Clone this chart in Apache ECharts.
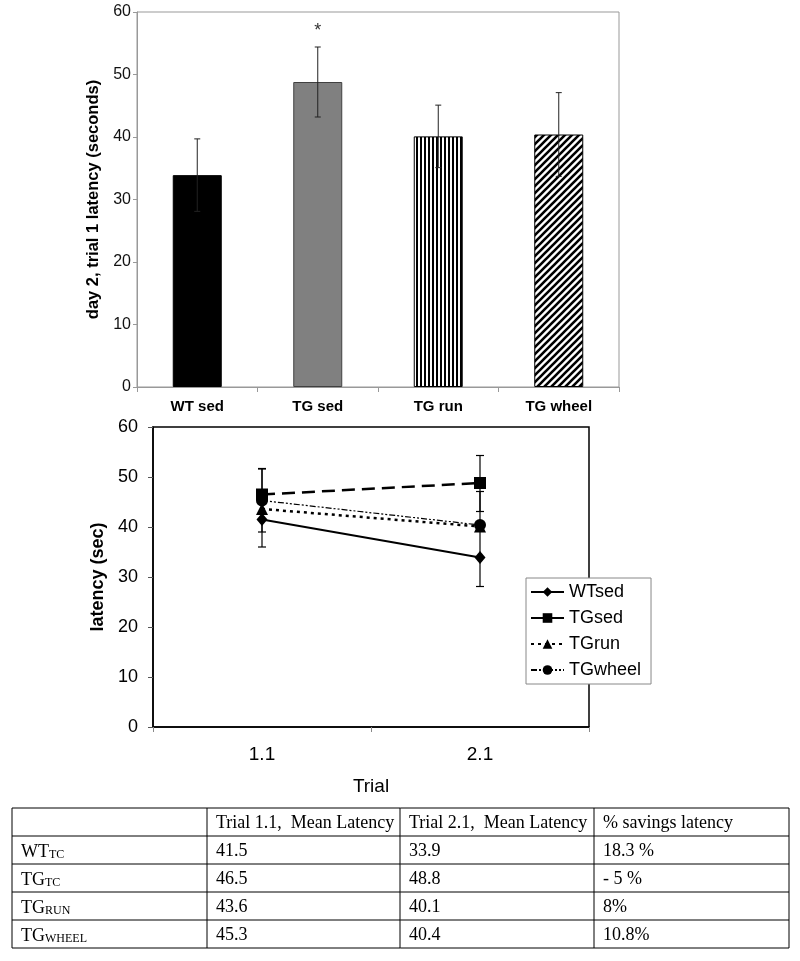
<!DOCTYPE html>
<html><head><meta charset="utf-8">
<script src="https://cdn.jsdelivr.net/npm/echarts@6/dist/echarts.min.js"></script>
<style>html,body{margin:0;padding:0;background:#fff}#c{width:800px;height:961px}</style>
</head><body><div id="c"></div>
<script>
// ---- Top bar chart data ----
const barCategories = ['WT sed', 'TG sed', 'TG run', 'TG wheel'];
const barValues = [33.9, 48.8, 40.1, 40.4];
const barErrors = [5.8, 5.6, 5.0, 6.7];
const barAxisTitle = 'day 2, trial 1 latency (seconds)';
const sigCategory = 'TG sed';
const sigValue = 57;

// ---- Line chart data ----
const trialCategories = ['1.1', '2.1'];
const lineNames = ['WTsed', 'TGsed', 'TGrun', 'TGwheel'];
const wtSed = [41.5, 33.9];
const tgSed = [46.5, 48.8];
const tgRun = [43.6, 40.1];
const tgWheel = [45.3, 40.4];
const wtSedErrLow = [36.0, 28.1];
const wtSedErrHigh = [47.0, 39.7];
const tgSedErrLow = [41.3, 43.1];
const tgSedErrHigh = [51.7, 54.3];
const tgWheelErrLow = [39.0, 40.4];
const tgWheelErrHigh = [51.6, 47.1];
const lineAxisTitle = 'latency (sec)';
const lineXTitle = 'Trial';

// ---- Table data ----
const tableHeader = ['', 'Trial 1.1,  Mean Latency', 'Trial 2.1,  Mean Latency', '% savings latency'];
const tableGroups = ['WT', 'TG', 'TG', 'TG'];
const tableSubs = ['TC', 'TC', 'RUN', 'WHEEL'];
const tableTrial1 = ['41.5', '46.5', '43.6', '45.3'];
const tableTrial2 = ['33.9', '48.8', '40.1', '40.4'];
const tableSavings = ['18.3 %', '- 5 %', '8%', '10.8%'];

const SANS = 'Liberation Sans, Arial, sans-serif';
const SERIF = 'Liberation Serif, Times New Roman, serif';

function makeVStripes() {
  const c = document.createElement('canvas'); c.width = 4; c.height = 4;
  const g = c.getContext('2d');
  g.fillStyle = '#fff'; g.fillRect(0, 0, 4, 4);
  g.fillStyle = '#000'; g.fillRect(0, 0, 2, 4);
  return c;
}
function makeDiag() {
  const s = 7;
  const c = document.createElement('canvas'); c.width = s; c.height = s;
  const g = c.getContext('2d');
  g.fillStyle = '#fff'; g.fillRect(0, 0, s, s);
  g.strokeStyle = '#000'; g.lineWidth = 2.6; g.lineCap = 'square';
  g.beginPath();
  g.moveTo(-1, 1); g.lineTo(1, -1);
  g.moveTo(0, s); g.lineTo(s, 0);
  g.moveTo(s - 1, s + 1); g.lineTo(s + 1, s - 1);
  g.stroke();
  return c;
}

const barStyles = [
  { color: '#000', borderColor: '#000', borderWidth: 1 },
  { color: '#808080', borderColor: '#404040', borderWidth: 1 },
  { color: { image: makeVStripes(), repeat: 'repeat' }, borderColor: '#000', borderWidth: 1 },
  { color: { image: makeDiag(), repeat: 'repeat' }, borderColor: '#000', borderWidth: 1 }
];

function errRender(capHalf, color, lw) {
  return function (params, api) {
    const lo = api.value(1), hi = api.value(2);
    if (lo == null || hi == null || isNaN(lo) || isNaN(hi)) return null;
    const x = api.value(0);
    const pLo = api.coord([x, lo]), pHi = api.coord([x, hi]);
    const style = { stroke: color, lineWidth: lw };
    return {
      type: 'group', children: [
        { type: 'line', shape: { x1: pLo[0], y1: pLo[1], x2: pHi[0], y2: pHi[1] }, style },
        { type: 'line', shape: { x1: pLo[0] - capHalf, y1: pLo[1], x2: pLo[0] + capHalf, y2: pLo[1] }, style },
        { type: 'line', shape: { x1: pHi[0] - capHalf, y1: pHi[1], x2: pHi[0] + capHalf, y2: pHi[1] }, style }
      ]
    };
  };
}

const barErrData = barCategories.map((c, i) => [i, barValues[i] - barErrors[i], barValues[i] + barErrors[i]]);
function lineErrData(lo, hi) { return trialCategories.map((c, i) => [i, lo[i], hi[i]]); }

// ---- Table graphics ----
const tblTop = 808, rowH = 28;
const colX = [12, 207, 400, 594, 789];
const nRows = 5;
const tableEls = [];
for (let r = 0; r <= nRows; r++) {
  const y = tblTop + r * rowH;
  tableEls.push({ type: 'line', shape: { x1: colX[0], y1: y, x2: colX[4], y2: y }, style: { stroke: '#000', lineWidth: 1 } });
}
colX.forEach(x => {
  tableEls.push({ type: 'line', shape: { x1: x, y1: tblTop, x2: x, y2: tblTop + nRows * rowH }, style: { stroke: '#000', lineWidth: 1 } });
});
function cellText(col, row, text, rich) {
  const el = {
    type: 'text',
    style: {
      x: colX[col] + 9, y: tblTop + row * rowH + rowH / 2 + 1,
      text: text, fill: '#000', fontFamily: SERIF, fontSize: 18,
      verticalAlign: 'middle', align: 'left'
    }
  };
  if (rich) el.style.rich = rich;
  return el;
}
tableHeader.forEach((h, c) => { if (h) tableEls.push(cellText(c, 0, h)); });
const subRich = {
  m: { fontFamily: SERIF, fontSize: 18, lineHeight: 20, verticalAlign: 'bottom', fill: '#000' },
  s: { fontFamily: SERIF, fontSize: 12, lineHeight: 12, verticalAlign: 'bottom', fill: '#000' }
};
tableGroups.forEach((g, i) => {
  tableEls.push(cellText(0, i + 1, '{m|' + g + '}{s|' + tableSubs[i] + '}', subRich));
  tableEls.push(cellText(1, i + 1, tableTrial1[i]));
  tableEls.push(cellText(2, i + 1, tableTrial2[i]));
  tableEls.push(cellText(3, i + 1, tableSavings[i]));
});

const chart = echarts.init(document.getElementById('c'), null, { renderer: 'canvas' });
const option = {
  animation: false,
  backgroundColor: '#fff',
  grid: [
    { left: 137, top: 12, width: 482, height: 375, show: true, borderColor: '#999', borderWidth: 1, backgroundColor: 'transparent' },
    { left: 153, top: 427, width: 436, height: 300, show: true, borderColor: '#000', borderWidth: 1.5, backgroundColor: 'transparent' }
  ],
  xAxis: [
    {
      gridIndex: 0, type: 'category', data: barCategories,
      axisLine: { lineStyle: { color: '#999', width: 1 } },
      axisTick: { show: true, length: 5, lineStyle: { color: '#999' } },
      axisLabel: { fontFamily: SANS, fontSize: 15, fontWeight: 'bold', color: '#000', margin: 12 }
    },
    {
      gridIndex: 1, type: 'category', data: trialCategories,
      name: lineXTitle, nameLocation: 'middle', nameGap: 50,
      nameTextStyle: { fontFamily: SANS, fontSize: 19, color: '#000' },
      axisLine: { lineStyle: { color: '#000', width: 1.5 } },
      axisTick: { show: true, length: 5, lineStyle: { color: '#888' } },
      axisLabel: { fontFamily: SANS, fontSize: 19, color: '#000', margin: 18 }
    }
  ],
  yAxis: [
    {
      gridIndex: 0, type: 'value', min: 0, max: 60, interval: 10,
      name: barAxisTitle, nameLocation: 'middle', nameGap: 32,
      nameTextStyle: { fontFamily: SANS, fontSize: 16.5, fontWeight: 'bold', color: '#000' },
      axisLine: { show: true, lineStyle: { color: '#999', width: 1 } },
      axisTick: { show: true, length: 4, lineStyle: { color: '#999' } },
      axisLabel: { fontFamily: SANS, fontSize: 16, color: '#111', margin: 6 },
      splitLine: { show: false }
    },
    {
      gridIndex: 1, type: 'value', min: 0, max: 60, interval: 10,
      name: lineAxisTitle, nameLocation: 'middle', nameGap: 44,
      nameTextStyle: { fontFamily: SANS, fontSize: 18, fontWeight: 'bold', color: '#000' },
      axisLine: { show: true, lineStyle: { color: '#000', width: 1.5 } },
      axisTick: { show: true, length: 5, lineStyle: { color: '#555' } },
      axisLabel: { fontFamily: SANS, fontSize: 18, color: '#000', margin: 15 },
      splitLine: { show: false }
    }
  ],
  legend: {
    data: lineNames, orient: 'vertical', left: 526, top: 578,
    backgroundColor: '#fff', borderColor: '#888', borderWidth: 1, borderRadius: 0,
    padding: [5, 10, 5, 4], itemWidth: 33, itemHeight: 12, itemGap: 8,
    textStyle: { fontFamily: SANS, fontSize: 18, color: '#000' }, z: 10
  },
  series: [
    {
      type: 'bar', xAxisIndex: 0, yAxisIndex: 0, barWidth: 49, z: 2,
      data: barValues.map((v, i) => ({ value: v, itemStyle: barStyles[i] })),
      markPoint: {
        symbol: 'circle', symbolSize: 0,
        label: { show: true, position: 'inside', formatter: '*', fontFamily: SANS, fontSize: 18, color: '#333' },
        data: [{ coord: [sigCategory, sigValue] }]
      }
    },
    {
      type: 'custom', xAxisIndex: 0, yAxisIndex: 0, z: 3,
      renderItem: errRender(3, '#222', 1), data: barErrData, silent: true
    },
    {
      name: 'WTsed', type: 'line', xAxisIndex: 1, yAxisIndex: 1, data: wtSed, z: 5,
      symbol: 'diamond', symbolSize: [11, 13],
      lineStyle: { color: '#000', width: 2, type: 'solid' }, itemStyle: { color: '#000' }
    },
    {
      name: 'TGsed', type: 'line', xAxisIndex: 1, yAxisIndex: 1, data: tgSed, z: 5,
      symbol: 'rect', symbolSize: 12,
      lineStyle: { color: '#000', width: 2.5, type: [13, 7] }, itemStyle: { color: '#000' }
    },
    {
      name: 'TGrun', type: 'line', xAxisIndex: 1, yAxisIndex: 1, data: tgRun, z: 5,
      symbol: 'triangle', symbolSize: 12,
      lineStyle: { color: '#000', width: 2.5, type: [3, 4] }, itemStyle: { color: '#000' }
    },
    {
      name: 'TGwheel', type: 'line', xAxisIndex: 1, yAxisIndex: 1, data: tgWheel, z: 5,
      symbol: 'circle', symbolSize: 12,
      lineStyle: { color: '#000', width: 1.2, type: [6, 2, 2, 2, 2, 2] }, itemStyle: { color: '#000' }
    },
    { type: 'custom', xAxisIndex: 1, yAxisIndex: 1, z: 4, silent: true, renderItem: errRender(4, '#000', 1.2), data: lineErrData(wtSedErrLow, wtSedErrHigh) },
    { type: 'custom', xAxisIndex: 1, yAxisIndex: 1, z: 4, silent: true, renderItem: errRender(4, '#000', 1.2), data: lineErrData(tgSedErrLow, tgSedErrHigh) },
    { type: 'custom', xAxisIndex: 1, yAxisIndex: 1, z: 4, silent: true, renderItem: errRender(4, '#000', 1.2), data: lineErrData(tgWheelErrLow, tgWheelErrHigh) }
  ],
  graphic: tableEls
};
chart.setOption(option);
</script>
</body></html>
